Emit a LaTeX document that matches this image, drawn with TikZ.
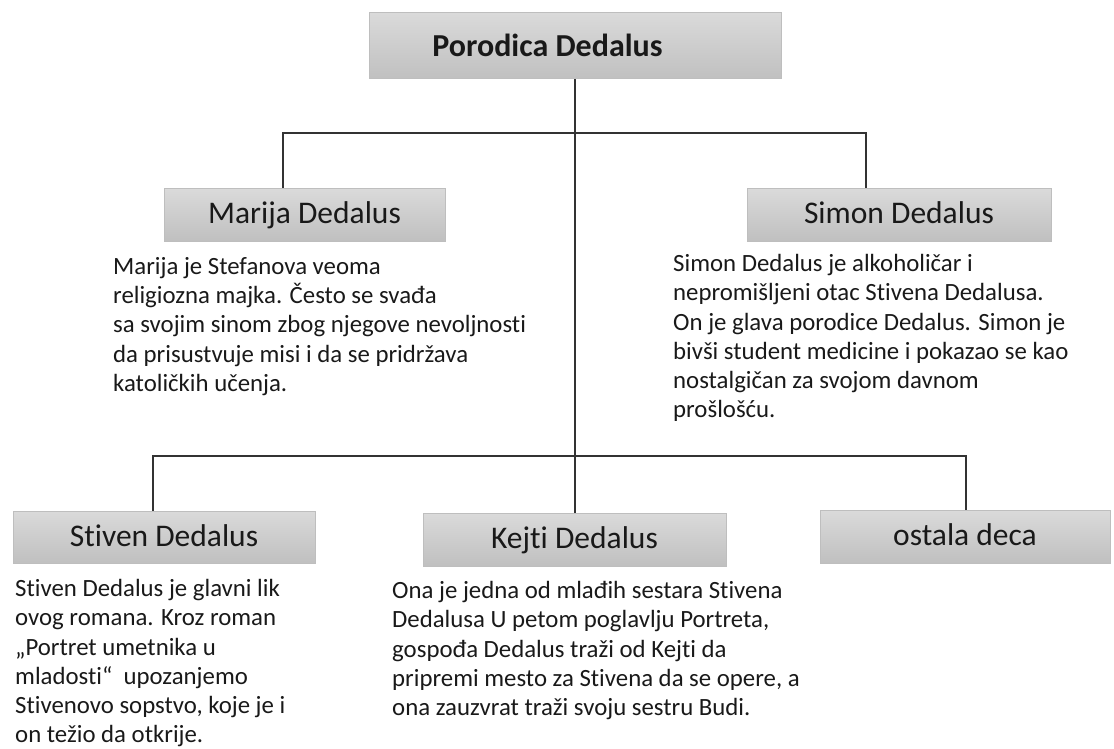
\documentclass[tikz,border=0pt]{standalone}
\usepackage{fontspec}
\setmainfont[Ligatures=NoCommon]{Carlito}
\usepackage{tikz}
\usetikzlibrary{positioning}

\definecolor{boxtop}{RGB}{218,218,218}
\definecolor{boxbot}{RGB}{192,192,192}
\definecolor{boxline}{RGB}{190,190,190}
\definecolor{txt}{RGB}{25,25,25}

\begin{document}
\begin{tikzpicture}[x=1pt,y=-1pt,
  head/.style={rectangle,draw=boxline,line width=1pt,top color=boxtop,bottom color=boxbot,
    inner sep=0pt,text=txt,text height=21pt,text depth=3pt,font=\fontsize{31.5}{36}\selectfont},
  desc/.style={anchor=north west,inner sep=0pt,align=left,text=txt,
    font=\fontsize{24.8}{29.3}\selectfont},
  link/.style={draw=black!80,line width=1.3pt}]
\useasboundingbox (0,0) rectangle (1114,749);

% Family
\node[head,minimum width=412pt,minimum height=66pt,text height=25pt,
  font=\bfseries\fontsize{32}{36}\selectfont]
  (porodica) at (575,46) {Porodica Dedalus\hspace*{55pt}};

% Parents
\node[head,minimum width=281pt,minimum height=53pt] (marija) at (304.5,214.5) {Marija Dedalus};
\node[head,minimum width=304pt,minimum height=53pt] (simon) at (899,214.5) {Simon Dedalus};

\node[desc] (marijatxt) at (113,257) {Marija je Stefanova veoma\\religiozna majka. Često se svađa\\sa svojim sinom zbog njegove nevoljnosti\\da prisustvuje misi i da se pridržava\\katoličkih učenja.};
\node[desc] (simontxt) at (673,254) {Simon Dedalus je alkoholičar i\\nepromišljeni otac Stivena Dedalusa.\\On je glava porodice Dedalus. Simon je\\bivši student medicine i pokazao se kao\\nostalgičan za svojom davnom\\prošlošću.};

% Children
\node[head,minimum width=302pt,minimum height=52pt] (stiven) at (164,537) {Stiven Dedalus};
\node[head,minimum width=303pt,minimum height=53pt] (kejti) at (574.5,539.5) {Kejti Dedalus};
\node[head,minimum width=290pt,minimum height=53pt] (ostala) at (965,536.5) {ostala deca};

\node[desc] (stiventxt) at (15,579) {Stiven Dedalus je glavni lik\\ovog romana. Kroz roman\\„Portret umetnika u\\mladosti“~ upozanjemo\\Stivenovo sopstvo, koje je i\\on težio da otkrije.};
\node[desc] (kejtitxt) at (392,581) {Ona je jedna od mlađih sestara Stivena\\Dedalusa U petom poglavlju Portreta,\\gospođa Dedalus traži od Kejti da\\pripremi mesto za Stivena da se opere, a\\ona zauzvrat traži svoju sestru Budi.};

% Connectors
\coordinate (upbar) at (575,133);
\coordinate (lowbar) at (575,456);
\draw[link] (porodica.south) -- (porodica.south |- kejti.north);
\draw[link] ([xshift=-21.5pt]marija.north) |- (upbar) -| ([xshift=-33pt]simon.north);
\draw[link] ([xshift=-11pt]stiven.north) |- (lowbar) -| ([xshift=1pt]ostala.north);
\end{tikzpicture}
\end{document}
